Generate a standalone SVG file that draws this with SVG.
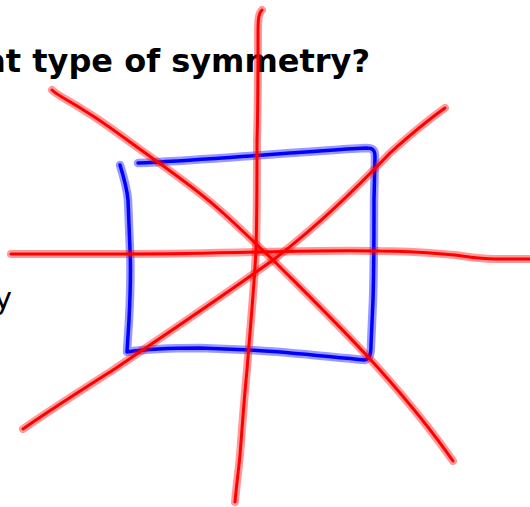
<svg xmlns="http://www.w3.org/2000/svg" xmlns:xlink="http://www.w3.org/1999/xlink" width="530" height="507" viewBox="0 0 530 507">
<style>
.title{font-family:"DejaVu Sans",Verdana,sans-serif;font-weight:bold;font-size:32px;fill:#000}
.body{font-family:"DejaVu Sans",Verdana,sans-serif;font-size:30px;fill:#000}
.stroke{fill:none;stroke-linecap:round;stroke-linejoin:round}
.rh{stroke:#ff0000;stroke-width:8;stroke-opacity:0.4}
.rc{stroke:#ff0000;stroke-width:3}
.bh{stroke:#0000ff;stroke-width:8.5;stroke-opacity:0.4}
.bc{stroke:#0000ff;stroke-width:3.5}
</style>
<defs>
<path id="sq" d="M120,165 C124,178 127,188 128,200 L130,250 C131,270 130,300 129,320 L127,352 C140,350 170,348 200,348 L250,350 C290,352 330,357 365,360 C370,358 371,354 371,345 L373,300 C374,270 374,230 374,200 L375,157 C375,150 373,148 366,148 C340,149 310,152 290,153 L250,156 C220,158 180,161 138,163"/>
<path id="rv" d="M262,10 C258,14 258,22 258,35 C258,80 258,110 257,140 C257,180 257,220 256,250 C254,290 250,330 247,370 C244,400 242,430 240,455 C238,475 236,490 235,502"/>
<path id="rhz" d="M11,254 C60,254 100,254 130,254 C180,254 220,253 260,252 C300,251 340,250 380,251 C410,251 430,253 455,255 C470,257 480,259 495,259 L530,259"/>
<path id="rd1" d="M52,90 C58,96 70,101 85,111 C100,120 115,131 130,142 C160,164 195,187 222,212 C240,228 257,245 273,260 C310,297 345,331 380,370 C405,398 430,428 453,461"/>
<path id="rd2" d="M23,429 C50,410 85,388 113,370 C165,335 220,298 273,260 C310,232 350,195 390,153 C410,135 428,120 445,108"/>
</defs>
<g id="title"><text class="title" x="370" y="72" text-anchor="end">at type of symmetry?</text></g>
<g id="side-text"><text class="body" x="12" y="309" text-anchor="end">y</text></g>
<g id="square">
<use xlink:href="#sq" class="stroke bh"/>
<use xlink:href="#sq" class="stroke bc"/>
</g>
<g id="axes">
<use xlink:href="#rv" class="stroke rh"/>
<use xlink:href="#rv" class="stroke rc"/>
<use xlink:href="#rhz" class="stroke rh"/>
<use xlink:href="#rhz" class="stroke rc"/>
<use xlink:href="#rd1" class="stroke rh"/>
<use xlink:href="#rd1" class="stroke rc"/>
<use xlink:href="#rd2" class="stroke rh"/>
<use xlink:href="#rd2" class="stroke rc"/>
</g>
</svg>
